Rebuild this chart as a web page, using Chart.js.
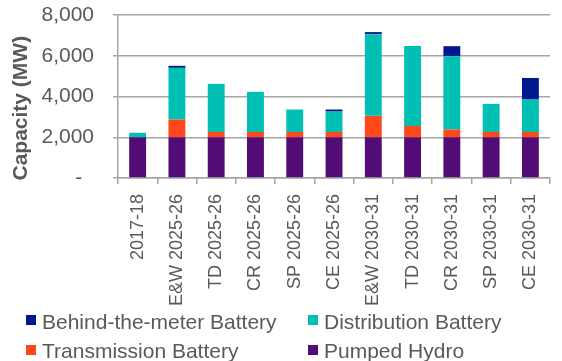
<!DOCTYPE html>
<html>
<head>
<meta charset="utf-8">
<script src="https://cdn.jsdelivr.net/npm/chart.js@4"></script>
<style>
  html, body { margin: 0; padding: 0; background: #fff; }
  #wrap { position: relative; width: 562px; height: 361px; }
</style>
</head>
<body>
<div id="wrap"><canvas id="c" width="562" height="361"></canvas></div>
<script>
// Storage capacity by scenario (MW)
const categories = ['2017-18', 'E&W 2025-26', 'TD 2025-26', 'CR 2025-26', 'SP 2025-26', 'CE 2025-26',
                    'E&W 2030-31', 'TD 2030-31', 'CR 2030-31', 'SP 2030-31', 'CE 2030-31'];
const pumpedHydro  = [2000, 2000, 2000, 2000, 2000, 2000, 2000, 2000, 2000, 2000, 2000];
const transmission = [0, 870, 260, 260, 260, 260, 1050, 555, 380, 260, 260];
const distribution = [220, 2535, 2360, 1970, 1100, 1000, 4010, 3920, 3600, 1380, 1590];
const behindMeter  = [0, 100, 0, 0, 0, 100, 100, 0, 490, 0, 1060];
const yTicks = [0, 2000, 4000, 6000, 8000];

const FONT = "'Liberation Sans', Arial, sans-serif";
const TEXT = '#595959';
const GRID = '#a6a6a6';

// Legend drawn in two columns under the axis labels
const legendPlugin = {
  id: 'gridLegend',
  afterDraw(chart) {
    const ctx = chart.ctx;
    const order = [3, 2, 1, 0];
    const cols = [26, 308];
    const boxTops = [315, 345];
    const baselines = [329, 358];
    ctx.save();
    ctx.font = '21px ' + FONT;
    ctx.textBaseline = 'alphabetic';
    ctx.textAlign = 'left';
    order.forEach((di, i) => {
      const ds = chart.data.datasets[di];
      const x = cols[i % 2];
      const r = Math.floor(i / 2);
      ctx.fillStyle = ds.backgroundColor;
      ctx.fillRect(x, boxTops[r], 10, 10);
      ctx.fillStyle = TEXT;
      ctx.fillText(ds.label, x + 16, baselines[r]);
    });
    ctx.restore();
  }
};

new Chart(document.getElementById('c'), {
  type: 'bar',
  data: {
    labels: categories,
    datasets: [
      { label: 'Pumped Hydro', data: pumpedHydro, backgroundColor: '#510c76' },
      { label: 'Transmission Battery', data: transmission, backgroundColor: '#ff4819' },
      { label: 'Distribution Battery', data: distribution, backgroundColor: '#00c0b4' },
      { label: 'Behind-the-meter Battery', data: behindMeter, backgroundColor: '#00188f' }
    ]
  },
  options: {
    responsive: false,
    animation: false,
    layout: { padding: { top: 15, left: 0, right: 0, bottom: 0 } },
    datasets: { bar: { categoryPercentage: 1, barPercentage: 0.43, borderWidth: 0 } },
    plugins: { legend: { display: false }, tooltip: { enabled: false } },
    scales: {
      x: {
        stacked: true,
        grid: { display: true, drawOnChartArea: false, drawTicks: true, tickLength: 6, color: GRID, lineWidth: 1.5 },
        border: { display: true, color: GRID, width: 1.5 },
        ticks: {
          color: TEXT, font: { family: FONT, size: 18 },
          minRotation: 90, maxRotation: 90, padding: 10, autoSkip: false
        },
        afterFit(scale) { scale.height = 183; }
      },
      y: {
        stacked: true,
        min: 0, max: 8000,
        afterBuildTicks(scale) { scale.ticks = yTicks.map(v => ({ value: v })); },
        grid: { color: GRID, lineWidth: 1.5, drawTicks: true, tickLength: 5 },
        border: { display: true, color: GRID, width: 1.5 },
        ticks: {
          color: TEXT, font: { family: FONT, size: 21 }, padding: 19,
          callback: v => v === 0 ? '-  ' : v.toLocaleString('en-US')
        },
        title: {
          display: true, text: 'Capacity (MW)    ', color: TEXT,
          font: { family: FONT, size: 21, weight: 'bold' }, padding: { top: 9, bottom: 0 }
        },
        afterFit(scale) {
          scale.width = 118;
          scale.paddingTop = 0;
          scale.paddingBottom = 0;
        }
      }
    }
  },
  plugins: [legendPlugin]
});
</script>
</body>
</html>
